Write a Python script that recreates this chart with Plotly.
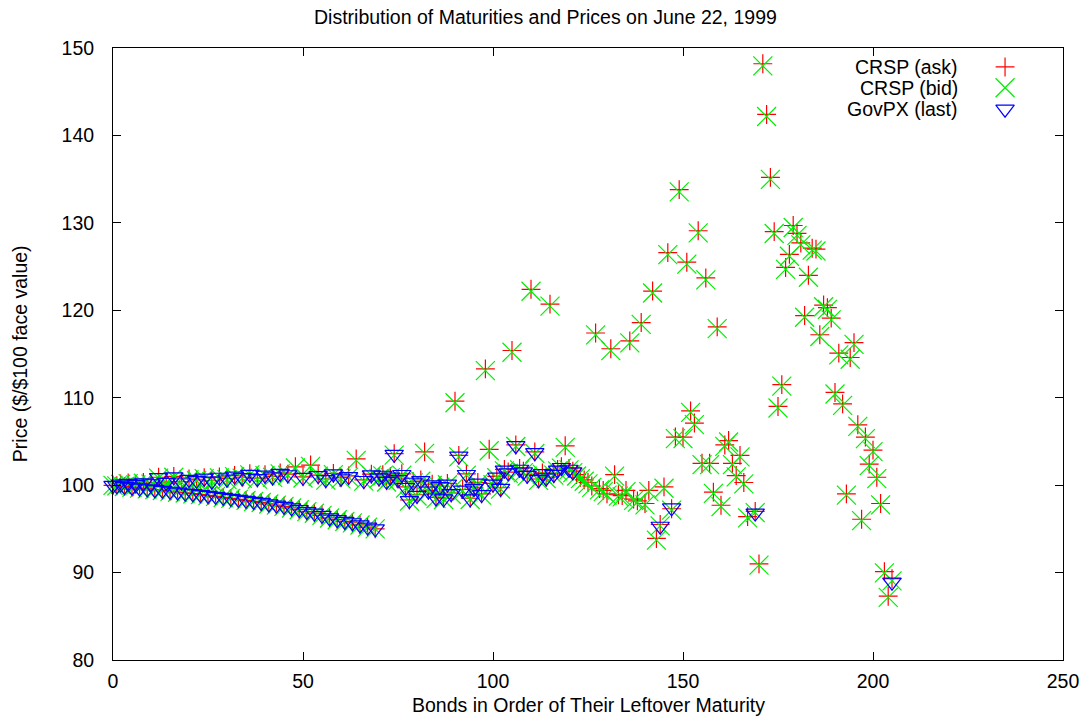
import plotly.graph_objects as go

# Bond index (order of leftover maturity) with CRSP ask / bid prices
bond_idx = list(range(0, 168)) + list(range(169, 206))

ask = [
    # 0-69
    99.98, 99.93, 100.15, 99.85, 100.25, 99.76, 100.10, 99.67, 100.30, 99.58,
    100.20, 99.49, 100.90, 99.40, 100.35, 99.30, 101.00, 99.20, 100.40, 99.11,
    100.70, 99.02, 100.60, 98.92, 100.85, 98.82, 100.50, 98.72, 100.95, 98.60,
    100.75, 98.49, 101.10, 98.38, 100.90, 98.26, 101.30, 98.14, 100.80, 98.02,
    101.20, 97.85, 101.00, 97.72, 101.40, 97.58, 101.25, 97.40, 102.10, 97.20,
    100.95, 96.98, 102.30, 96.80, 101.15, 96.55, 100.70, 96.25, 101.35, 96.05,
    100.85, 95.85, 101.05, 95.70, 103.00, 95.45, 100.60, 95.20, 101.25, 95.00,
    # 70-99
    100.90, 101.20, 100.50, 101.00, 103.60, 100.70, 101.30, 99.80, 98.30, 100.40,
    98.90, 100.60, 103.80, 99.40, 100.10, 98.60, 99.90, 98.50, 100.20, 99.10,
    109.60, 103.40, 99.50, 101.30, 98.50, 99.70, 100.30, 99.00, 113.30, 104.10,
    # 100-121
    100.20, 101.00, 99.70, 101.80, 101.50, 115.40, 104.60, 101.90, 101.60, 101.20,
    122.40, 103.80, 100.70, 101.40, 100.90, 120.70, 101.30, 101.80, 102.10, 104.50,
    101.90, 101.60,
    # 122-150
    101.20, 100.90, 100.60, 100.30, 99.90, 117.40, 99.60, 99.40, 99.00, 115.60,
    101.20, 98.90, 98.80, 99.40, 116.50, 98.40, 98.20, 118.60, 97.90, 99.40,
    122.20, 93.90, 95.50, 99.80, 126.60, 97.30, 105.50, 133.80, 105.50,
    # 151-167
    125.50, 108.50, 107.10, 129.10, 102.50, 123.70, 102.50, 99.20, 118.10, 97.70,
    104.60, 105.10, 102.50, 101.10, 103.40, 100.30, 96.40,
    # 169-205
    97.00, 91.00, 148.20, 142.40, 135.20, 129.00, 109.00, 111.50, 124.90, 126.40,
    129.70, 128.80, 127.70, 119.40, 124.00, 127.10, 127.00, 117.20, 120.60, 120.30,
    119.10, 110.60, 115.10, 109.30, 99.00, 114.60, 116.30, 106.90, 96.10, 105.50,
    102.40, 104.00, 100.90, 97.90, 90.10, 87.30, 89.30,
]

bid = [
    # 0-69
    99.97, 99.92, 100.08, 99.84, 100.18, 99.75, 100.03, 99.66, 100.22, 99.57,
    100.12, 99.48, 100.80, 99.39, 100.27, 99.29, 100.90, 99.19, 100.31, 99.10,
    100.60, 99.01, 100.50, 98.91, 100.74, 98.81, 100.40, 98.71, 100.84, 98.59,
    100.64, 98.48, 100.98, 98.37, 100.79, 98.25, 101.18, 98.13, 100.69, 98.01,
    101.08, 97.84, 100.88, 97.71, 101.28, 97.57, 101.13, 97.39, 101.96, 97.19,
    100.82, 96.97, 102.15, 96.79, 101.02, 96.54, 100.57, 96.24, 101.21, 96.04,
    100.72, 95.84, 100.91, 95.69, 102.84, 95.44, 100.46, 95.19, 101.11, 94.99,
    # 70-99
    100.76, 101.06, 100.36, 100.86, 103.44, 100.56, 101.15, 99.66, 98.17, 100.26,
    98.76, 100.45, 103.64, 99.26, 99.96, 98.46, 99.76, 98.36, 100.05, 98.96,
    109.42, 103.24, 99.35, 101.15, 98.36, 99.55, 100.15, 98.85, 113.10, 103.93,
    # 100-121
    100.05, 100.85, 99.55, 101.64, 101.34, 115.20, 104.42, 101.74, 101.44, 101.04,
    122.18, 103.62, 100.55, 101.24, 100.75, 120.48, 101.14, 101.64, 101.94, 104.32,
    101.74, 101.44,
    # 122-150
    101.05, 100.75, 100.45, 100.15, 99.75, 117.18, 99.45, 99.25, 98.85, 115.38,
    101.04, 98.75, 98.65, 99.25, 116.28, 98.25, 98.05, 118.38, 97.75, 99.25,
    121.98, 93.72, 95.34, 99.64, 126.36, 97.14, 105.32, 133.55, 105.32,
    # 151-167
    125.28, 108.32, 106.92, 128.86, 102.34, 123.48, 102.34, 99.05, 117.90, 97.55,
    104.43, 104.93, 102.34, 100.94, 103.23, 100.15, 96.26,
    # 169-205
    96.86, 90.86, 147.95, 142.16, 134.97, 128.78, 108.82, 111.32, 124.68, 126.18,
    129.47, 128.57, 127.48, 119.20, 123.78, 126.88, 126.78, 117.00, 120.40, 120.10,
    118.90, 110.42, 114.90, 109.12, 98.85, 114.40, 116.10, 106.72, 95.95, 105.32,
    102.24, 103.83, 100.74, 97.75, 89.96, 87.16, 89.05,
]

# GovPX last-trade prices (only bonds quoted on GovPX)
govpx_idx = (
    list(range(0, 48)) + [49, 50, 51] + list(range(53, 64)) + list(range(65, 82))
    + list(range(83, 90)) + list(range(91, 98))
    + [100, 101, 102, 103, 104, 106, 107, 108, 109, 111, 112, 113, 114,
       116, 117, 118, 120, 121, 144, 147, 169, 205]
)
govpx = [
    # 0-47
    99.97, 99.93, 100.12, 99.85, 100.21, 99.76, 100.07, 99.66, 100.26, 99.58,
    100.16, 99.48, 100.85, 99.40, 100.31, 99.30, 100.95, 99.20, 100.36, 99.10,
    100.65, 99.02, 100.55, 98.92, 100.80, 98.82, 100.45, 98.72, 100.90, 98.60,
    100.70, 98.49, 101.04, 98.38, 100.85, 98.26, 101.24, 98.14, 100.75, 98.02,
    101.14, 97.85, 100.94, 97.72, 101.34, 97.58, 101.19, 97.40,
    # 49-51
    97.20, 100.89, 96.98,
    # 53-63
    96.80, 101.09, 96.55, 100.64, 96.25, 101.28, 96.05, 100.79, 95.85, 100.98, 95.70,
    # 65-81
    95.45, 100.53, 95.20, 101.18, 95.00, 100.83, 101.13, 100.43, 100.93, 103.52,
    100.63, 101.22, 99.73, 98.24, 100.33, 98.83, 100.52,
    # 83-89
    99.33, 100.03, 98.53, 99.83, 98.43, 100.12, 99.03,
    # 91-97
    103.32, 99.42, 101.22, 98.43, 99.62, 100.22, 98.92,
    # 100-121 subset
    100.12, 100.92, 99.62, 101.72, 101.42, 104.51, 101.82, 101.52, 101.12, 103.71,
    100.62, 101.32, 100.82, 101.22, 101.72, 102.02, 101.82, 101.52,
    # long end
    95.30, 97.40, 96.80, 88.90,
]

FONT = "Liberation Sans, Arial, Helvetica, sans-serif"
FS = 19.5

fig = go.Figure()

fig.add_trace(go.Scatter(
    x=bond_idx, y=ask, mode="markers", name="CRSP (ask)",
    marker=dict(symbol="cross-thin", size=13.5, color="#ff0000",
                line=dict(color="#ff0000", width=1.2)),
    cliponaxis=False, showlegend=False,
))
fig.add_trace(go.Scatter(
    x=bond_idx, y=bid, mode="markers", name="CRSP (bid)",
    marker=dict(symbol="x-thin", size=19, color="#00ee00",
                line=dict(color="#00ee00", width=1.2)),
    cliponaxis=False, showlegend=False,
))
fig.add_trace(go.Scatter(
    x=govpx_idx, y=govpx, mode="markers", name="GovPX (last)",
    marker=dict(symbol="triangle-down-open", size=16, color="#0000ff",
                line=dict(color="#0000ff", width=1.2)),
    cliponaxis=False, showlegend=False,
))

# Key: labels right-aligned, sample symbol to their right
key_labels = ["CRSP (ask)", "CRSP (bid)", "GovPX (last)"]
key_y = [0.969, 0.935, 0.900]
key_style = [
    dict(symbol="cross-thin", size=13.5, color="#ff0000", line=dict(color="#ff0000", width=1.2)),
    dict(symbol="x-thin", size=19, color="#00ee00", line=dict(color="#00ee00", width=1.2)),
    dict(symbol="triangle-down-open", size=16, color="#0000ff", line=dict(color="#0000ff", width=1.2)),
]
for lab, ky, st in zip(key_labels, key_y, key_style):
    fig.add_trace(go.Scatter(x=[0.939], y=[ky], mode="markers", marker=st,
                             xaxis="x2", yaxis="y2", showlegend=False,
                             hoverinfo="skip", cliponaxis=False))
    fig.add_annotation(x=0.892, y=ky, xref="paper", yref="paper", text=lab,
                       showarrow=False, xanchor="right", yanchor="middle",
                       font=dict(family=FONT, size=FS, color="black"))

axis_common = dict(
    showgrid=False, zeroline=False, showline=True, linecolor="black",
    linewidth=1, mirror="allticks", ticks="inside", ticklen=8,
    tickcolor="black", tickwidth=1,
    tickfont=dict(family=FONT, size=FS, color="black"),
)

fig.update_layout(
    width=1091, height=725,
    margin=dict(l=113, r=26, t=48, b=65),
    paper_bgcolor="white", plot_bgcolor="white",
    xaxis=dict(range=[0, 250], tickvals=[0, 50, 100, 150, 200, 250],
               ticklabelstandoff=4, **axis_common),
    yaxis=dict(range=[80, 150], tickvals=[80, 90, 100, 110, 120, 130, 140, 150],
               ticklabelstandoff=14, **axis_common),
    xaxis2=dict(range=[0, 1], overlaying="x", visible=False),
    yaxis2=dict(range=[0, 1], overlaying="y", visible=False),
    showlegend=False,
)

fig.add_annotation(text="Distribution of Maturities and Prices on June 22, 1999",
                   x=(546 - 113) / 952, y=(660 - 17) / 612, xref="paper", yref="paper",
                   showarrow=False, xanchor="center", yanchor="middle",
                   font=dict(family=FONT, size=FS, color="black"))
fig.add_annotation(text="Bonds in Order of Their Leftover Maturity",
                   x=0.5, y=-(705 - 660) / 612, xref="paper", yref="paper",
                   showarrow=False, xanchor="center", yanchor="middle",
                   font=dict(family=FONT, size=FS, color="black"))
fig.add_annotation(text="Price ($/$100 face value)",
                   x=-(113 - 20) / 952, y=0.5, xref="paper", yref="paper",
                   showarrow=False, xanchor="center", yanchor="middle", textangle=-90,
                   font=dict(family=FONT, size=FS, color="black"))

fig.write_html("out.html")
